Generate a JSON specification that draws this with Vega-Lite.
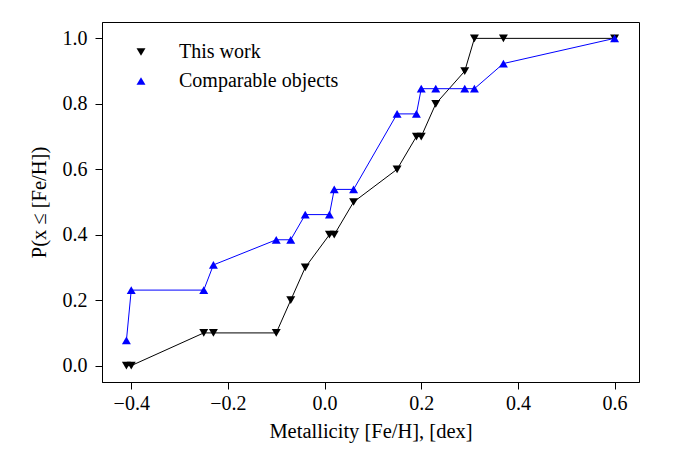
{
  "$schema": "https://vega.github.io/schema/vega-lite/v6.json",
  "autosize": "none",
  "width": 537,
  "height": 360,
  "padding": {"left": 102, "top": 22, "right": 36, "bottom": 68},
  "background": "white",
  "config": {
    "font": "Liberation Serif",
    "view": {"stroke": "black", "strokeWidth": 1},
    "legend": {"labelFont": "Liberation Serif", "titleFont": "Liberation Serif"},
    "axis": {
      "grid": false,
      "domainColor": "black",
      "tickColor": "black",
      "tickSize": 7,
      "labelColor": "black",
      "titleColor": "black",
      "labelFontSize": 20,
      "titleFontSize": 20.5,
      "titleFontWeight": "normal",
      "labelFont": "Liberation Serif",
      "titleFont": "Liberation Serif"
    }
  },
  "data": {
    "values": [
      {"series": "This work", "x": -0.41, "y": 0.0},
      {"series": "This work", "x": -0.40, "y": 0.0},
      {"series": "This work", "x": -0.25, "y": 0.1},
      {"series": "This work", "x": -0.23, "y": 0.1},
      {"series": "This work", "x": -0.10, "y": 0.1},
      {"series": "This work", "x": -0.07, "y": 0.2},
      {"series": "This work", "x": -0.04, "y": 0.3},
      {"series": "This work", "x": 0.01, "y": 0.4},
      {"series": "This work", "x": 0.02, "y": 0.4},
      {"series": "This work", "x": 0.06, "y": 0.5},
      {"series": "This work", "x": 0.15, "y": 0.6},
      {"series": "This work", "x": 0.19, "y": 0.7},
      {"series": "This work", "x": 0.20, "y": 0.7},
      {"series": "This work", "x": 0.23, "y": 0.8},
      {"series": "This work", "x": 0.29, "y": 0.9},
      {"series": "This work", "x": 0.31, "y": 1.0},
      {"series": "This work", "x": 0.37, "y": 1.0},
      {"series": "This work", "x": 0.60, "y": 1.0},
      {"series": "Comparable objects", "x": -0.41, "y": 0.0769},
      {"series": "Comparable objects", "x": -0.40, "y": 0.2308},
      {"series": "Comparable objects", "x": -0.25, "y": 0.2308},
      {"series": "Comparable objects", "x": -0.23, "y": 0.3077},
      {"series": "Comparable objects", "x": -0.10, "y": 0.3846},
      {"series": "Comparable objects", "x": -0.07, "y": 0.3846},
      {"series": "Comparable objects", "x": -0.04, "y": 0.4615},
      {"series": "Comparable objects", "x": 0.01, "y": 0.4615},
      {"series": "Comparable objects", "x": 0.02, "y": 0.5385},
      {"series": "Comparable objects", "x": 0.06, "y": 0.5385},
      {"series": "Comparable objects", "x": 0.15, "y": 0.7692},
      {"series": "Comparable objects", "x": 0.19, "y": 0.7692},
      {"series": "Comparable objects", "x": 0.20, "y": 0.8462},
      {"series": "Comparable objects", "x": 0.23, "y": 0.8462},
      {"series": "Comparable objects", "x": 0.29, "y": 0.8462},
      {"series": "Comparable objects", "x": 0.31, "y": 0.8462},
      {"series": "Comparable objects", "x": 0.37, "y": 0.9231},
      {"series": "Comparable objects", "x": 0.60, "y": 1.0}
    ]
  },
  "encoding": {
    "x": {
      "field": "x",
      "type": "quantitative",
      "scale": {"domain": [-0.4605, 0.6505], "nice": false, "zero": false},
      "axis": {"values": [-0.4, -0.2, 0.0, 0.2, 0.4, 0.6], "format": ".1f", "title": "Metallicity [Fe/H], [dex]", "labelPadding": 4, "titlePadding": 8}
    },
    "y": {
      "field": "y",
      "type": "quantitative",
      "scale": {"domain": [-0.05, 1.05], "nice": false, "zero": false},
      "axis": {"values": [0, 0.2, 0.4, 0.6, 0.8, 1.0], "format": ".1f", "title": "P(x ≤ [Fe/H])", "labelPadding": 8, "titlePadding": 13}
    }
  },
  "layer": [
    {
      "transform": [{"filter": "datum.series === 'This work'"}],
      "mark": {"type": "line", "strokeWidth": 1, "color": "black"}
    },
    {
      "transform": [{"filter": "datum.series === 'Comparable objects'"}],
      "mark": {"type": "line", "strokeWidth": 1, "color": "blue"}
    },
    {
      "mark": {"type": "point", "filled": true, "opacity": 1, "size": 80},
      "encoding": {
        "color": {
          "field": "series",
          "type": "nominal",
          "scale": {"domain": ["This work", "Comparable objects"], "range": ["black", "blue"]},
          "legend": {
            "title": null,
            "orient": "none",
            "legendX": 29,
            "legendY": 20,
            "labelFontSize": 20,
            "labelFont": "Liberation Serif",
            "labelColor": "black",
            "symbolSize": 80,
            "labelOffset": 28,
            "rowPadding": 9,
            "symbolStrokeWidth": 0,
            "symbolOpacity": 1
          }
        },
        "shape": {
          "field": "series",
          "type": "nominal",
          "scale": {"domain": ["This work", "Comparable objects"], "range": ["triangle-down", "triangle-up"]}
        }
      }
    }
  ]
}
